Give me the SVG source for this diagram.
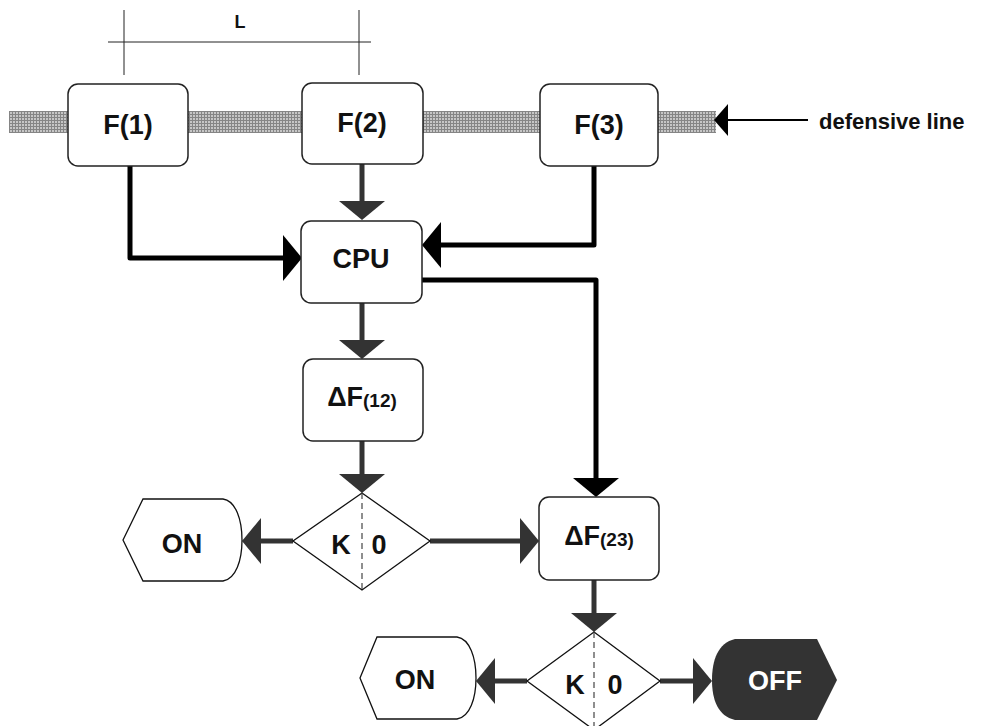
<svg xmlns="http://www.w3.org/2000/svg" width="981" height="726" viewBox="0 0 981 726">
<style>
.box{fill:#fff;stroke:#222;stroke-width:1.5}
.dia{fill:#fff;stroke:#111;stroke-width:1.3}
.lbl{font-family:"Liberation Sans",Arial,sans-serif;font-weight:bold;fill:#111;text-anchor:middle}
.big{font-size:27px}
.sub{font-size:19px}
.dark{fill:none;stroke:#333;stroke-width:5;stroke-linejoin:round;marker-end:url(#ahDark)}
.blk{fill:none;stroke:#000;stroke-width:5;stroke-linejoin:round;marker-end:url(#ahBlk)}
.thin{fill:none;stroke:#222;stroke-width:1}
.dash{stroke:#444;stroke-width:1.2;stroke-dasharray:6 4}
</style>
<defs>
<pattern id="hatch" width="3" height="3" patternUnits="userSpaceOnUse">
<rect width="3" height="3" fill="#858585"/>
<rect x="1" y="1" width="2" height="2" fill="#c6c6c6"/>
</pattern>
<marker id="ahDark" markerUnits="userSpaceOnUse" markerWidth="20" markerHeight="46" refX="0" refY="23" orient="auto" overflow="visible">
<path d="M0,0 L19,23 L0,46 Z" fill="#333"/>
</marker>
<marker id="ahBlk" markerUnits="userSpaceOnUse" markerWidth="20" markerHeight="46" refX="0" refY="23" orient="auto" overflow="visible">
<path d="M0,0 L19,23 L0,46 Z" fill="#000"/>
</marker>
<marker id="ahThin" markerUnits="userSpaceOnUse" markerWidth="14" markerHeight="32" refX="0" refY="16" orient="auto" overflow="visible">
<path d="M0,0 L14,16 L0,32 Z" fill="#000"/>
</marker>
</defs>
<rect width="981" height="726" fill="#fff"/>

<g id="dimension">
<line class="thin" x1="108" y1="42" x2="371" y2="42"/>
<line class="thin" x1="124" y1="10" x2="124" y2="75"/>
<line class="thin" x1="359" y1="10" x2="359" y2="75"/>
<text class="lbl" x="240" y="28" font-size="18">L</text>
</g>

<g id="defensive-line">
<rect x="9" y="111" width="707" height="22" fill="url(#hatch)"/>
<text class="lbl" x="819" y="129" font-size="22" style="text-anchor:start">defensive line</text>
</g>

<g id="connectors">
<path class="blk" d="M130,166 V258 H283"/>
<path class="dark" d="M362,164 V201"/>
<path class="blk" d="M594,166 V245 H441"/>
<path class="blk" d="M422,280 H596 V478"/>
<path class="dark" d="M362,303 V340"/>
<path class="dark" d="M362,441 V474"/>
<path class="dark" d="M293,541 H261"/>
<path class="dark" d="M430,541 H520"/>
<path class="dark" d="M594,580 V613"/>
<path class="dark" d="M527,681 H495"/>
<path class="dark" d="M660,681 H693"/>
<path d="M808,120 H728" fill="none" stroke="#000" stroke-width="2" marker-end="url(#ahThin)"/>
</g>

<g id="F1">
<rect class="box" x="68" y="84" width="120" height="82" rx="10"/>
<text class="lbl big" x="128" y="134">F(1)</text>
</g>
<g id="F2">
<rect class="box" x="302" y="83" width="121" height="81" rx="10"/>
<text class="lbl big" x="362" y="132">F(2)</text>
</g>
<g id="F3">
<rect class="box" x="540" y="84" width="118" height="82" rx="10"/>
<text class="lbl big" x="599" y="134">F(3)</text>
</g>
<g id="CPU">
<rect class="box" x="301" y="221" width="121" height="82" rx="10"/>
<text class="lbl big" x="361" y="268">CPU</text>
</g>
<g id="dF12">
<rect class="box" x="303" y="359" width="120" height="82" rx="10"/>
<text class="lbl big" x="362" y="406">ΔF<tspan class="sub" dy="1">(12)</tspan></text>
</g>
<g id="dF23">
<rect class="box" x="539" y="497" width="120" height="83" rx="10"/>
<text class="lbl big" x="599" y="545">ΔF<tspan class="sub" dy="1">(23)</tspan></text>
</g>
<g id="K1">
<polygon class="dia" points="362,493 430,541 362,590 293,541"/>
<line class="dash" x1="362" y1="493" x2="362" y2="590"/>
<text class="lbl big" x="341" y="554">K</text>
<text class="lbl big" x="379" y="554">0</text>
</g>
<g id="K2">
<polygon class="dia" points="594,632 660,681 594,730 527,681"/>
<line class="dash" x1="594" y1="632" x2="594" y2="730"/>
<text class="lbl big" x="575" y="694">K</text>
<text class="lbl big" x="615" y="694">0</text>
</g>
<g id="ON1">
<path class="dia" d="M123,540 L143,499 H223 C236,501 242,520 242,540 C242,560 236,579 223,581 H143 Z"/>
<text class="lbl big" x="182" y="553">ON</text>
</g>
<g id="ON2">
<path class="dia" d="M360,678 L377,637 H457 C470,639 476,658 476,678 C476,698 470,717 457,719 H377 Z"/>
<text class="lbl big" x="415" y="689">ON</text>
</g>
<g id="OFF">
<path d="M735,639 H817 L837,680 L817,720 H735 C718,716 712,700 712,680 C712,660 718,643 735,639 Z" fill="#333"/>
<text class="lbl big" x="775" y="690" style="fill:#fff">OFF</text>
</g>
</svg>
